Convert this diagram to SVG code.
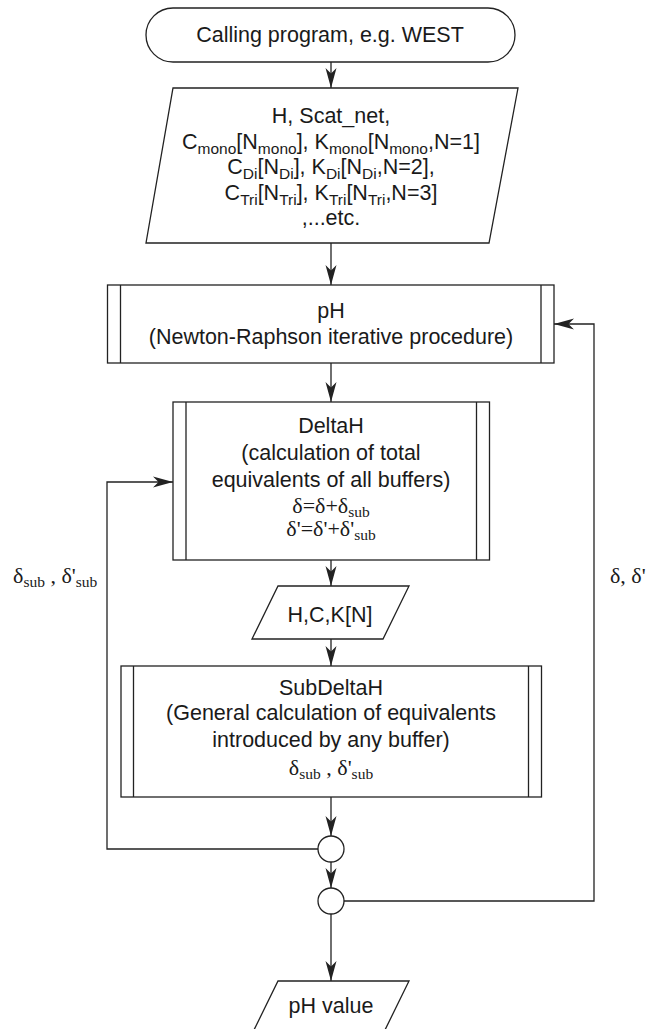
<svg xmlns="http://www.w3.org/2000/svg" width="652" height="1029" viewBox="0 0 652 1029">
<style>
.box{fill:#fff;stroke:#222;stroke-width:1.3}
.ln{fill:none;stroke:#222;stroke-width:1.3}
.t{font-family:"Liberation Sans",Arial,sans-serif;font-size:21.5px;fill:#1a1a1a;text-anchor:middle}
.s{font-family:"Liberation Serif","Times New Roman",serif;font-size:22px;fill:#1a1a1a}
.c{text-anchor:middle}
</style>
<defs>
<marker id="ah" viewBox="-21 -6 22 12" markerWidth="22" markerHeight="12" refX="0" refY="0" orient="auto" markerUnits="userSpaceOnUse">
<path d="M0,0 L-20,-5.5 L-14.5,0 L-20,5.5 Z" fill="#222"/>
</marker>
</defs>
<rect width="652" height="1029" fill="#fff"/>

<g id="connectors">
<path class="ln" d="M331,62 V88" marker-end="url(#ah)"/>
<path class="ln" d="M331,243 V285" marker-end="url(#ah)"/>
<path class="ln" d="M331,363 V402" marker-end="url(#ah)"/>
<path class="ln" d="M331,560 V586" marker-end="url(#ah)"/>
<path class="ln" d="M331,639 V666" marker-end="url(#ah)"/>
<path class="ln" d="M331,797 V836" marker-end="url(#ah)"/>
<path class="ln" d="M331,862 V888" marker-end="url(#ah)"/>
<path class="ln" d="M331,914 V981" marker-end="url(#ah)"/>
<path class="ln" d="M318,849 H107 V482 H173" marker-end="url(#ah)"/>
<path class="ln" d="M344,901 H594 V324 H554" marker-end="url(#ah)"/>
</g>

<g id="start">
<rect class="box" x="146" y="8" width="369" height="54" rx="27" ry="27"/>
<text class="t" x="330" y="42">Calling program, e.g. WEST</text>
</g>

<g id="input">
<polygon class="box" points="173,88 518,88 489,243 146,243"/>
<text class="t" x="331" y="123">H, Scat_net,</text>
<text class="t" x="331" y="148.5">C<tspan dy="5" font-size="15.5">mono</tspan><tspan dy="-5">[N</tspan><tspan dy="5" font-size="15.5">mono</tspan><tspan dy="-5">], K</tspan><tspan dy="5" font-size="15.5">mono</tspan><tspan dy="-5">[N</tspan><tspan dy="5" font-size="15.5">mono</tspan><tspan dy="-5">,N=1]</tspan></text>
<text class="t" x="331" y="174">C<tspan dy="5" font-size="15.5">Di</tspan><tspan dy="-5">[N</tspan><tspan dy="5" font-size="15.5">Di</tspan><tspan dy="-5">], K</tspan><tspan dy="5" font-size="15.5">Di</tspan><tspan dy="-5">[N</tspan><tspan dy="5" font-size="15.5">Di</tspan><tspan dy="-5">,N=2],</tspan></text>
<text class="t" x="331" y="199.5">C<tspan dy="5" font-size="15.5">Tri</tspan><tspan dy="-5">[N</tspan><tspan dy="5" font-size="15.5">Tri</tspan><tspan dy="-5">], K</tspan><tspan dy="5" font-size="15.5">Tri</tspan><tspan dy="-5">[N</tspan><tspan dy="5" font-size="15.5">Tri</tspan><tspan dy="-5">,N=3]</tspan></text>
<text class="t" x="331" y="225">,...etc.</text>
</g>

<g id="ph">
<rect class="box" x="107.5" y="285" width="446.5" height="78"/>
<path class="ln" d="M120.5,285 V363 M541,285 V363"/>
<text class="t" x="331" y="318">pH</text>
<text class="t" x="331" y="344">(Newton-Raphson iterative procedure)</text>
</g>

<g id="deltah">
<rect class="box" x="173" y="402" width="316.5" height="158"/>
<path class="ln" d="M186,402 V560 M476.5,402 V560"/>
<text class="t" x="331" y="433">DeltaH</text>
<text class="t" x="331" y="460">(calculation of total</text>
<text class="t" x="331" y="487">equivalents of all buffers)</text>
<text class="s c" x="331" y="513">δ=δ+δ<tspan dy="4" font-size="15.5">sub</tspan></text>
<text class="s c" x="331" y="536">δ'=δ'+δ'<tspan dy="4" font-size="15.5">sub</tspan></text>
</g>

<g id="hckn">
<polygon class="box" points="278,586 409,586 383,639 252,639"/>
<text class="t" x="330" y="622">H,C,K[N]</text>
</g>

<g id="subdeltah">
<rect class="box" x="121" y="666" width="420.5" height="131"/>
<path class="ln" d="M133.5,666 V797 M528.5,666 V797"/>
<text class="t" x="331" y="695">SubDeltaH</text>
<text class="t" x="331" y="720">(General calculation of equivalents</text>
<text class="t" x="331" y="747">introduced by any buffer)</text>
<text class="s c" x="331" y="775">δ<tspan dy="4" font-size="15.5">sub</tspan><tspan dy="-4"> , δ'</tspan><tspan dy="4" font-size="15.5">sub</tspan></text>
</g>

<g id="join1">
<circle class="box" cx="331" cy="849" r="13"/>
</g>
<g id="join2">
<circle class="box" cx="331" cy="901" r="13"/>
</g>

<g id="output">
<polygon class="box" points="278,981 409,981 383,1034 252,1034"/>
<text class="t" x="331" y="1013">pH value</text>
</g>

<g id="labels">
<text class="s" x="13" y="583">δ<tspan dy="4" font-size="15.5">sub</tspan><tspan dy="-4"> , δ'</tspan><tspan dy="4" font-size="15.5">sub</tspan></text>
<text class="s" x="610" y="583">δ, δ'</text>
</g>
</svg>
